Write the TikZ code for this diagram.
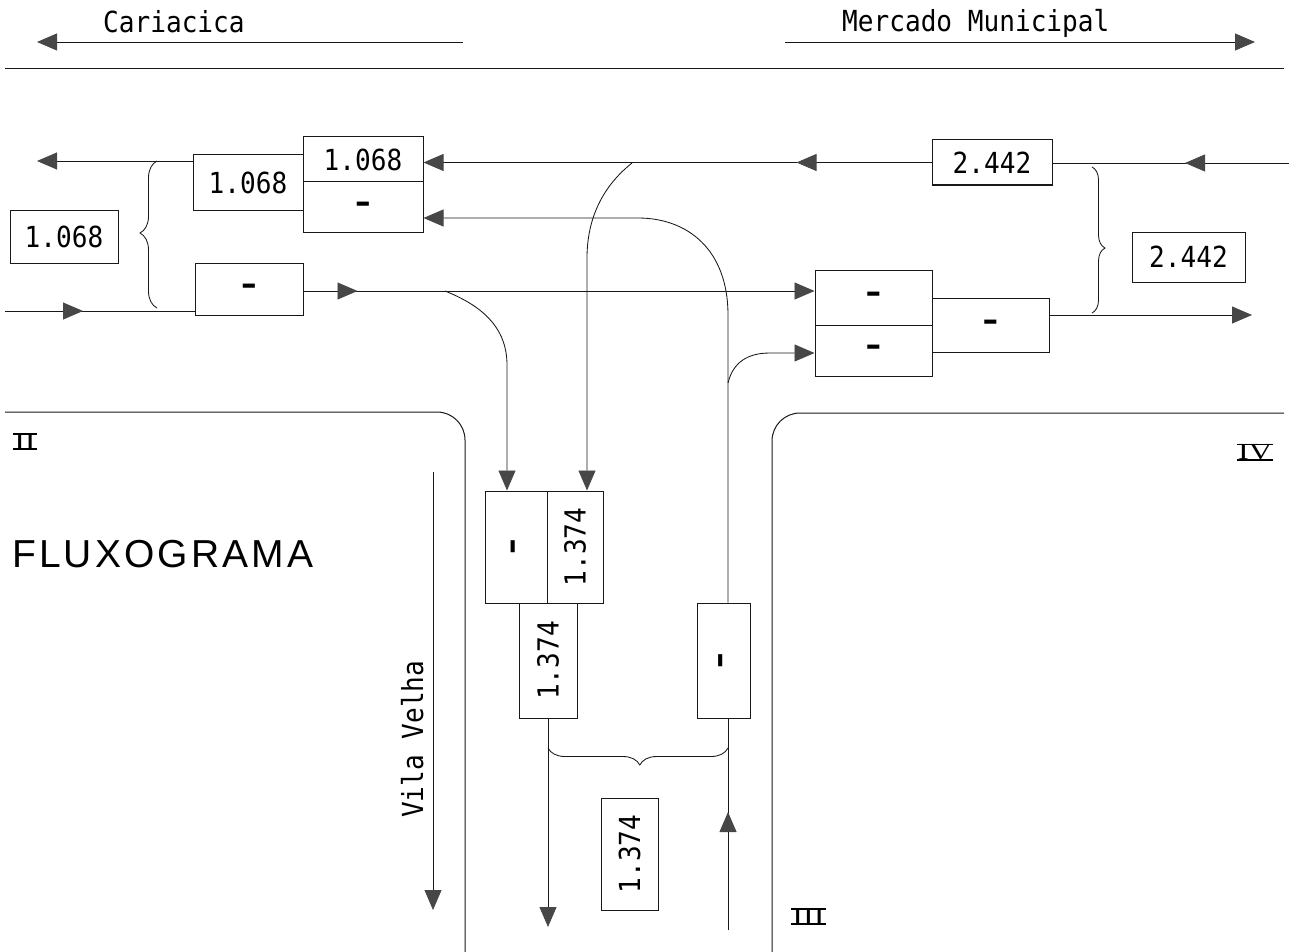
\documentclass[tikz,border=0pt]{standalone}
\usepackage{fontspec}
\usepackage{graphicx}
\usetikzlibrary{arrows.meta,decorations.pathreplacing,decorations.markings}
\newfontfamily\twfont[FakeStretch=0.9]{DejaVu Sans Mono}
\newfontfamily\fluxfont[LetterSpace=8]{Liberation Sans}
\newfontfamily\romfont[FakeStretch=1.4]{Liberation Serif}
\newcommand\numfnt{\twfont\fontsize{29}{32}\selectfont}
\newcommand\lblfnt{\twfont\fontsize{29}{32}\selectfont}
\newcommand\dsh{\textbf{\scalebox{1.5}[1]{-}}}
\tikzset{
  tri/.tip={Triangle[length=20pt,width=17pt,color=black!72]},
  lin/.style={line width=0.85pt, draw=black!90},
  box/.style={draw=black!90, line width=1pt, inner sep=0pt, font=\numfnt},
  vbox/.style={box, rotate=90},
  midarrow/.style={postaction={decorate},decoration={markings,mark=at position #1 with {\arrow{tri}}}},
  roman/.style={font=\romfont\fontsize{23}{25}\selectfont, inner xsep=1pt, inner ysep=0pt, text height=15pt, text depth=0pt},
  brc/.style={lin, decorate, decoration={brace, amplitude=#1}},
}
\begin{document}
\begin{tikzpicture}[x=1pt,y=-1pt]
\useasboundingbox (0,0) rectangle (1289,952);
% ---------- top road ----------
\node[font=\lblfnt, anchor=base west, inner sep=0pt] (cari) at (103,33) {Cariacica};
\node[font=\lblfnt, anchor=base west, inner sep=0pt] (merc) at (842,32) {Mercado Municipal};
\coordinate (cL) at (37,42); \coordinate (cLs) at (463,42);
\coordinate (mRs) at (785,42); \coordinate (mR) at (1255,42);
\draw[lin,-tri] (cLs) -- (cL);
\draw[lin,-tri] (mRs) -- (mR);
\coordinate (t1) at (5,68); \coordinate (t2) at (1284,68);
\draw[lin] (t1) -- (t2);
% ---------- boxes ----------
\node[box, minimum width=108pt, minimum height=53pt] (L0) at (64,236.5) {1.068};
\node[box, minimum width=110pt, minimum height=55pt] (LA) at (248,182.5) {1.068};
\node[box, minimum width=120pt, minimum height=45pt] (LB) at (363,159.5) {1.068};
\node[box, minimum width=120pt, minimum height=50pt] (LC) at (363,207) {\dsh};
\node[box, minimum width=108pt, minimum height=52pt] (LD) at (249,289) {\dsh};
\node[box, minimum width=120pt, minimum height=45pt] (R1) at (992,162.5) {2.442};
\node[box, minimum width=113pt, minimum height=50pt] (R2) at (1188.5,257) {2.442};
\node[box, minimum width=117pt, minimum height=55pt] (RA) at (873.5,297.5) {\dsh};
\node[box, minimum width=117pt, minimum height=51pt] (RB) at (873.5,350.5) {\dsh};
\node[box, minimum width=117pt, minimum height=54pt] (RC) at (990.5,325) {\dsh};
\node[vbox, minimum width=112pt, minimum height=62pt] (BA) at (516,547) {\dsh};
\node[vbox, minimum width=112pt, minimum height=56pt] (BB) at (575,547) {1.374};
\node[vbox, minimum width=115pt, minimum height=58pt] (BC) at (548,660.5) {1.374};
\node[vbox, minimum width=115pt, minimum height=53pt] (BD) at (723.5,660.5) {\dsh};
\node[vbox, minimum width=112pt, minimum height=57pt] (BE) at (629.5,854) {1.374};
% ---------- row 1 (westbound) ----------
\coordinate (e1) at (1289,163);
\draw[lin, midarrow=104pt] (e1) -- (e1 -| R1.east);
\draw[lin, midarrow=135pt, -tri] (R1.west) -- (R1.west -| LB.east);
\coordinate (l1) at (37,161);
\draw[lin,-tri] (LA.west |- l1) -- (l1);
% ---------- row 2 (eastbound) ----------
\coordinate (l2) at (5,311);
\draw[lin, midarrow=78pt] (l2) -- (l2 -| LD.west);
\coordinate (yR2) at (0,291);
\draw[lin, midarrow=54pt, -tri] (LD.east |- yR2) -- (RA.west |- yR2);
\coordinate (o1) at (1252,315);
\draw[lin,-tri] (RC.east |- o1) -- (o1);
% ---------- turning movements (rotated boxes: .east = top, .west = bottom) ----------
\coordinate (xA) at (587,0);
\coordinate (xB) at (728,0);
\coordinate (xC) at (507,0);
\coordinate (yB) at (0,218);
\coordinate (yD) at (0,353);
\draw[lin,-tri] (632,163) .. controls (608,182) and (587,212) .. (587,258) -- (BB.east -| xA);
\draw[lin,-tri] (445,291) .. controls (480,305) and (507,326) .. (507,365) -- (BA.east -| xC);
\draw[lin,-tri] (BD.east -| xB) -- (728,315) .. controls (728,250) and (688,218) .. (638,218) -- (LC.east |- yB);
\draw[lin,-tri] (728,383) .. controls (733,362) and (748,353) .. (770,353) -- (RB.west |- yD);
\coordinate (b3) at (728,930);
\draw[lin, midarrow=118pt] (b3) -- (BD.west -| xB);
\coordinate (b1) at (548,927);
\draw[lin,-tri] (BC.west) -- (b1);
% ---------- Vila Velha ----------
\coordinate (v1) at (433,472); \coordinate (v2) at (433,910);
\draw[lin,-tri] (v1) -- (v2);
\node[font=\lblfnt, rotate=90, anchor=base west, inner sep=0pt] (vv) at (423,818) {Vila Velha};
% ---------- braces ----------
\coordinate (bl1) at (157,308); \coordinate (bl2) at (157,161);
\draw[brc=17pt, decoration={aspect=0.51}] (bl1) -- (bl2);
\coordinate (br1) at (1092,167); \coordinate (br2) at (1092,313);
\draw[brc=13pt, decoration={aspect=0.555}] (br1) -- (br2);
\coordinate (bb1) at (728,748); \coordinate (bb2) at (548,748);
\draw[brc=17pt, decoration={aspect=0.49}] (bb1) -- (bb2);
% ---------- side roads ----------
\coordinate (s1) at (5,412); \coordinate (s2) at (465,412); \coordinate (s3) at (465,952);
\draw[lin, line width=1pt, rounded corners=28pt] (s1) -- (s2) -- (s3);
\coordinate (s4) at (772,952); \coordinate (s5) at (772,413); \coordinate (s6) at (1284,413);
\draw[lin, line width=1pt, rounded corners=28pt] (s4) -- (s5) -- (s6);
% ---------- labels ----------
\node[font=\fluxfont\fontsize{39}{42}\selectfont, anchor=base west, inner sep=0pt] (flux) at (12,567) {FLUXOGRAMA};
\node[roman] (rII) at (25,441.5) {II};
\draw[line width=1.6pt] (rII.north west) -- (rII.north east) (rII.south west) -- (rII.south east);
\node[roman] (rIII) at (808.5,916.5) {III};
\draw[line width=1.6pt] (rIII.north west) -- (rIII.north east) (rIII.south west) -- (rIII.south east);
\node[roman] (rIV) at (1255,452) {IV};
\draw[line width=1.6pt] (rIV.north west) -- (rIV.north east) (rIV.south west) -- (rIV.south east);
\end{tikzpicture}
\end{document}
